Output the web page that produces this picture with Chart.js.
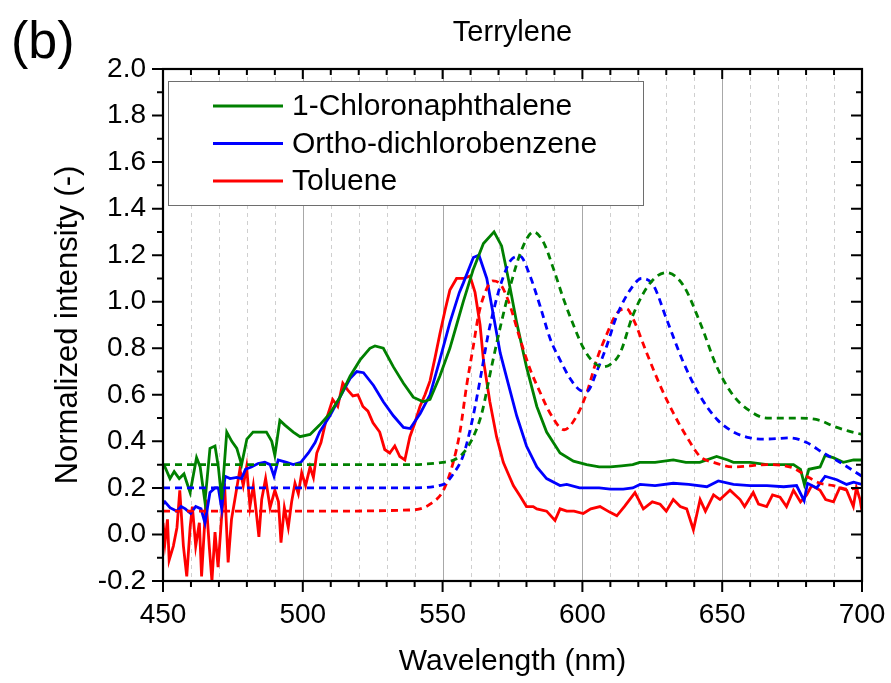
<!DOCTYPE html>
<html><head><meta charset="utf-8">
<script src="https://cdn.jsdelivr.net/npm/chart.js@4.4.0/dist/chart.umd.min.js"></script>
<style>html,body{margin:0;padding:0;background:#fff}canvas{display:block}</style>
</head><body>
<canvas id="c" width="891" height="683"></canvas>
<script>
// ---- tick / axis settings ----
const xTickValues = [450, 500, 550, 600, 650, 700];
const yTickValues = [-0.2, 0.0, 0.2, 0.4, 0.6, 0.8, 1.0, 1.2, 1.4, 1.6, 1.8, 2.0];
const seriesNames = ['1-Chloronaphthalene', 'Ortho-dichlorobenzene', 'Toluene'];

// ---- 1-Chloronaphthalene, solid ----
const cnSolidX = [450,450.7,452.5,454,455.8,457.5,459.7,462,463.3,465,466.8,468.6,469.8,471,472.8,474.6,476.4,478.1,480,482.2,484.7,487,488.9,490,491.8,493.6,496.6,499,502.6,506,509.7,513.3,516.9,520.5,524,525.8,528.8,532.4,536,539.5,543,545.5,549,552.6,555,557.4,561,564.6,568.4,571.1,573.5,576.5,580,583.7,587.2,592,596.8,601.5,606,610,614,618,620.5,626,632.5,637,642,648,652,654,660,666,672,675.5,678,679.4,681,685,686.8,689.7,693.3,697,700];
const cnSolidY = [0.30,0.29,0.24,0.27,0.24,0.26,0.18,0.33,0.29,0.14,0.37,0.38,0.29,0.15,0.44,0.40,0.37,0.30,0.41,0.44,0.44,0.44,0.40,0.34,0.49,0.47,0.44,0.42,0.43,0.47,0.52,0.59,0.68,0.75,0.80,0.81,0.80,0.72,0.65,0.59,0.57,0.58,0.68,0.80,0.90,1.00,1.14,1.25,1.30,1.24,1.10,0.91,0.72,0.55,0.44,0.35,0.315,0.30,0.29,0.29,0.295,0.30,0.31,0.31,0.32,0.31,0.31,0.335,0.32,0.31,0.31,0.30,0.30,0.30,0.28,0.215,0.28,0.29,0.34,0.33,0.31,0.32,0.32];

// ---- Ortho-dichlorobenzene, solid ----
const odSolidX = [450,450.7,452.5,455,456.5,458,459.9,461.7,463.6,465,466.8,468.6,469.8,471,472.2,474,476.4,478.1,479.5,481.6,484,486.4,488.3,489.7,491.2,494.2,496.6,499.3,502,504.4,506,509.7,513.3,516.9,519.3,521.7,525.3,528.8,532.4,536,538.4,542,545.5,549,552.6,556,557.4,561,563,565.8,568.2,570.6,573,576.5,580,583.7,587.2,592,594.4,599,606,610,614.6,618,620.6,626,632.5,638,644.5,648.6,654,660,666,672,676.6,679.3,680.5,683.8,686.8,691,694.5,697,700];
const odSolidY = [0.13,0.14,0.115,0.10,0.12,0.11,0.09,0.12,0.11,0.05,0.18,0.20,0.20,0.11,0.25,0.24,0.245,0.24,0.28,0.29,0.305,0.31,0.30,0.25,0.32,0.31,0.30,0.31,0.35,0.395,0.44,0.51,0.59,0.67,0.70,0.695,0.64,0.57,0.51,0.46,0.455,0.52,0.60,0.75,0.91,1.04,1.08,1.19,1.20,1.10,0.94,0.78,0.67,0.51,0.38,0.29,0.24,0.21,0.215,0.20,0.20,0.195,0.195,0.20,0.215,0.21,0.22,0.215,0.205,0.23,0.215,0.21,0.21,0.205,0.21,0.145,0.22,0.20,0.25,0.235,0.215,0.225,0.215];

// ---- Toluene, solid ----
const tolSolidX = [450,450.7,451.6,452.2,453.7,455,456,457.3,458.5,459.7,460.5,461.7,463,463.8,465.4,466.6,467.5,468.6,469.7,470.9,472,473.3,474.5,475.7,477.5,478.7,479.9,481.1,482.3,483.5,484.3,485.3,486.7,488.3,490,491.3,492.2,493.4,494.8,496,497.2,498.4,499.6,501,502.6,503.8,505,506.5,508.3,510.7,512.5,514.3,516.1,517.9,519.7,521.5,523.3,525.1,527.5,529.3,531.1,532.9,534.7,536.5,538.3,540.1,541.9,543.7,545.5,547.3,549,551,552.6,555,557.4,559.8,561.6,563.4,564.6,566.9,569.3,571.7,573.5,575.3,577.7,580,582.4,583.7,587.2,590.2,592,594.4,597,600.3,603,606.3,609.9,612.3,615,618.8,621.8,625,627.8,630,632.5,635,637.3,639.7,642.1,644,646.9,649.2,652.8,656.4,658,661.1,663,665.9,668,670.7,673,675.5,678,680.2,682,685,687,689.8,692,694.5,696.9,698,699.3,700];
const tolSolidY = [0.05,-0.035,0.065,-0.11,-0.05,0.03,0.19,-0.05,-0.18,0.03,0.12,-0.05,0.05,-0.18,0.15,-0.06,-0.20,0.01,-0.14,0.065,0.22,-0.12,0.065,0.15,0.28,0.21,0.29,0.12,0.21,0.08,-0.01,0.15,0.24,0.115,0.19,0.14,-0.035,0.115,0.03,0.14,0.22,0.175,0.265,0.21,0.29,0.245,0.35,0.395,0.49,0.58,0.55,0.65,0.62,0.595,0.60,0.55,0.53,0.48,0.44,0.365,0.35,0.38,0.335,0.32,0.42,0.48,0.55,0.60,0.66,0.76,0.86,0.97,1.05,1.10,1.10,1.11,1.04,0.90,0.75,0.57,0.42,0.31,0.26,0.21,0.165,0.12,0.12,0.11,0.10,0.06,0.11,0.10,0.10,0.09,0.11,0.12,0.095,0.08,0.12,0.18,0.11,0.14,0.13,0.10,0.15,0.12,0.11,0.02,0.15,0.10,0.17,0.15,0.19,0.15,0.12,0.18,0.13,0.12,0.17,0.16,0.12,0.19,0.14,0.17,0.21,0.19,0.15,0.14,0.20,0.19,0.12,0.20,0.15,0.10];

// ---- 1-Chloronaphthalene, dashed ----
const cnDashX = [450,500,538,550,554,557.4,561,564,567.5,571,574.5,578.5,582.5,586.1,589.7,593.3,596.8,600.4,604,607,609.9,613.5,618,624.2,630.1,636.1,642.1,648.1,654.1,660,666,672,678,685,689.8,695,700];
const cnDashY = [0.30,0.30,0.30,0.31,0.32,0.35,0.42,0.52,0.72,0.91,1.08,1.23,1.30,1.255,1.14,1.01,0.90,0.80,0.74,0.72,0.73,0.78,0.94,1.08,1.125,1.07,0.91,0.72,0.595,0.53,0.50,0.50,0.50,0.49,0.465,0.445,0.43];

// ---- Ortho-dichlorobenzene, dashed ----
const odDashX = [450,500,538,550.3,553.8,557.4,560.6,563.5,566.3,568.8,571.5,574.5,577.7,581.3,584.9,588.5,592,595.6,599.2,601.6,605.1,608.7,612.3,618.2,621.2,625.4,630.1,636.1,642.1,648.1,654.1,660,666,674.3,680.2,686.2,692.1,700];
const odDashY = [0.20,0.20,0.20,0.215,0.26,0.34,0.49,0.67,0.86,0.99,1.10,1.18,1.195,1.11,0.98,0.84,0.75,0.67,0.62,0.615,0.70,0.81,0.94,1.07,1.10,1.07,0.925,0.74,0.595,0.495,0.44,0.415,0.41,0.415,0.395,0.35,0.31,0.25];

// ---- Toluene, dashed ----
const tolDashX = [450,500,538,541.9,545.5,550.3,553.8,556.2,558.6,561,562.8,565.2,568,571,574.2,577.7,581.3,584.9,588.5,593.5,598,601.6,605.1,608.7,612.3,615.8,618.2,623,627.8,632.6,637.3,642.1,646.9,654.1,666,675.5,680.2,685,689.8,694.5,700];
const tolDashY = [0.10,0.10,0.105,0.11,0.13,0.19,0.31,0.44,0.64,0.81,0.94,1.04,1.09,1.07,0.98,0.84,0.71,0.61,0.52,0.45,0.51,0.61,0.75,0.86,0.95,0.97,0.925,0.78,0.64,0.52,0.42,0.335,0.31,0.29,0.30,0.285,0.25,0.22,0.21,0.195,0.20];

const GREEN = '#008000', BLUE = '#0000ff', RED = '#ff0000';
const FONT = '"Liberation Sans", Arial, Helvetica, sans-serif';
const toXY = (xs, ys) => xs.map((x, i) => ({x: x, y: ys[i]}));

function solid(label, xs, ys, color) {
  return {label: label, data: toXY(xs, ys), borderColor: color, backgroundColor: color,
    borderWidth: 2.8, pointRadius: 0, tension: 0, fill: false, inLegend: true};
}
function dashed(xs, ys, color) {
  return {label: '', data: toXY(xs, ys), borderColor: color, backgroundColor: color,
    borderWidth: 2.8, borderDash: [7, 5], pointRadius: 0, cubicInterpolationMode: 'monotone',
    fill: false, inLegend: false};
}

const decorPlugin = {
  id: 'decor',
  beforeDatasetsDraw(chart) {
    const {ctx, chartArea: a, scales: {x}} = chart;
    ctx.save();
    ctx.lineWidth = 1;
    // minor dashed grid every 10 nm
    ctx.strokeStyle = '#cfcfcf';
    ctx.setLineDash([4, 4]);
    for (let v = 460; v < 700; v += 10) {
      if (v % 50 === 0) continue;
      const px = Math.round(x.getPixelForValue(v)) + 0.5;
      ctx.beginPath(); ctx.moveTo(px, a.top); ctx.lineTo(px, a.bottom); ctx.stroke();
    }
    ctx.setLineDash([]);
    ctx.strokeStyle = '#a8a8a8';
    for (let i = 1; i < xTickValues.length - 1; i++) {
      const px = Math.round(x.getPixelForValue(xTickValues[i])) + 0.5;
      ctx.beginPath(); ctx.moveTo(px, a.top); ctx.lineTo(px, a.bottom); ctx.stroke();
    }
    ctx.restore();
  },
  afterDraw(chart) {
    const {ctx, chartArea: a, scales: {x, y}} = chart;
    ctx.save();
    ctx.strokeStyle = '#000';
    ctx.lineWidth = 2.2;
    ctx.strokeRect(a.left, a.top, a.right - a.left, a.bottom - a.top);
    ctx.lineWidth = 2;
    // x ticks
    for (let v = 450; v <= 700; v += 10) {
      const major = v % 50 === 0;
      const px = x.getPixelForValue(v);
      ctx.beginPath();
      ctx.moveTo(px, a.bottom); ctx.lineTo(px, a.bottom + (major ? 11 : 6));
      ctx.moveTo(px, a.top); ctx.lineTo(px, a.top + (major ? 10 : 6));
      ctx.stroke();
    }
    // y ticks
    for (let k = -2; k <= 20; k++) {
      const major = k % 2 === 0;
      const py = y.getPixelForValue(k / 10);
      ctx.beginPath();
      ctx.moveTo(a.left, py); ctx.lineTo(a.left - (major ? 11 : 6), py);
      ctx.moveTo(a.right, py); ctx.lineTo(a.right - (major ? 11 : 6), py);
      ctx.stroke();
    }
    // legend box
    const lx = a.left + 5, ly = a.top + 12, lw = 475, lh = 124;
    ctx.fillStyle = '#fff';
    ctx.fillRect(lx, ly, lw, lh);
    ctx.lineWidth = 1;
    ctx.strokeStyle = '#6e6e6e';
    ctx.strokeRect(lx + 0.5, ly + 0.5, lw, lh);
    ctx.font = '30px ' + FONT;
    ctx.textBaseline = 'middle';
    ctx.textAlign = 'left';
    let row = 0;
    chart.data.datasets.forEach(ds => {
      if (!ds.inLegend) return;
      const ry = ly + 25 + row * 37.5;
      ctx.strokeStyle = ds.borderColor;
      ctx.lineWidth = 2.8;
      ctx.beginPath(); ctx.moveTo(lx + 45, ry); ctx.lineTo(lx + 115, ry); ctx.stroke();
      ctx.fillStyle = '#000';
      ctx.fillText(ds.label, lx + 124, ry + 1);
      row++;
    });
    // title and panel label
    ctx.fillStyle = '#000';
    ctx.textAlign = 'center';
    ctx.font = '29px ' + FONT;
    ctx.fillText('Terrylene', (a.left + a.right) / 2, 33);
    ctx.textAlign = 'left';
    ctx.font = '52px ' + FONT;
    ctx.fillText('(b)', 11, 44);
    ctx.restore();
  }
};

new Chart(document.getElementById('c'), {
  type: 'line',
  data: {
    datasets: [
      dashed(cnDashX, cnDashY, GREEN),
      dashed(odDashX, odDashY, BLUE),
      dashed(tolDashX, tolDashY, RED),
      solid(seriesNames[0], cnSolidX, cnSolidY, GREEN),
      solid(seriesNames[1], odSolidX, odSolidY, BLUE),
      solid(seriesNames[2], tolSolidX, tolSolidY, RED)
    ]
  },
  options: {
    responsive: false,
    animation: false,
    devicePixelRatio: 1,
    layout: {padding: {left: 0, top: 69, right: 29, bottom: 0}},
    plugins: {legend: {display: false}, tooltip: {enabled: false}, title: {display: false}},
    scales: {
      x: {
        type: 'linear', min: 450, max: 700,
        afterBuildTicks: s => { s.ticks = xTickValues.map(v => ({value: v})); },
        afterFit: s => { s.height = 102; s.paddingLeft = 0; s.paddingRight = 0; },
        grid: {display: false, drawTicks: false},
        border: {display: false},
        ticks: {padding: 17, color: '#000', font: {family: FONT, size: 28}, maxRotation: 0},
        title: {display: true, text: 'Wavelength (nm)', color: '#000',
          font: {family: FONT, size: 30}, padding: {top: 0, bottom: 3}}
      },
      y: {
        type: 'linear', min: -0.2, max: 2.0,
        afterBuildTicks: s => { s.ticks = yTickValues.map(v => ({value: v})); },
        afterFit: s => { s.width = 163; },
        grid: {display: false, drawTicks: false},
        border: {display: false},
        ticks: {padding: 17, color: '#000', font: {family: FONT, size: 28},
          callback: v => Number(v).toFixed(1)},
        title: {display: true, text: 'Normalized intensity (-)', color: '#000',
          font: {family: FONT, size: 31}, padding: {top: 50, bottom: 0}}
      }
    }
  },
  plugins: [decorPlugin]
});
</script>
</body></html>
